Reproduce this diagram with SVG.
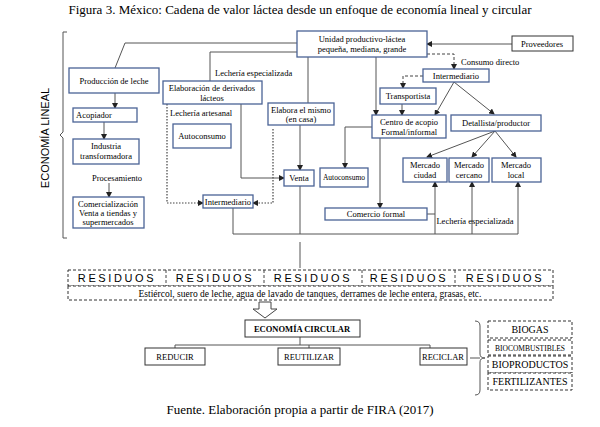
<svg xmlns="http://www.w3.org/2000/svg" width="600" height="427" viewBox="0 0 600 427">
<style>
text{font-family:"Liberation Serif","Times New Roman",serif;fill:#000;font-size:8.5px}
.b{fill:#fff;stroke:#4a6396;stroke-width:1.3}
.k{fill:#fff;stroke:#333;stroke-width:1}
.d{fill:#fff;stroke:#333;stroke-width:1;stroke-dasharray:3,2}
.l{fill:none;stroke:#555;stroke-width:1}
.ld{fill:none;stroke:#444;stroke-width:1;stroke-dasharray:3,2}
.lt{fill:none;stroke:#444;stroke-width:1.2;stroke-dasharray:1.5,1.5}
.m{text-anchor:middle}
.r{font-family:"Liberation Sans",Arial,sans-serif;font-size:11px;letter-spacing:2.6px}
</style>
<defs><marker id="a" markerWidth="6" markerHeight="6" refX="5" refY="3" orient="auto" markerUnits="userSpaceOnUse"><path d="M0,0L6,3L0,6z" fill="#222"/></marker></defs>
<text x="300" y="14" class="m" style="font-size:13px">Figura 3. México: Cadena de valor láctea desde un enfoque de economía lineal y circular</text>
<text transform="translate(49,138) rotate(-90)" class="m" style="font-family:'Liberation Sans',Arial,sans-serif;font-size:11px">ECONOMÍA LINEAL</text>
<g id="connectors">
<path class="l" d="M67,32h-4v100l-3,3l3,3v100h4"/>
<path class="l" d="M297,43H125L115,68"/>
<path class="l" d="M115,93v15" marker-end="url(#a)"/>
<path class="l" d="M104,122v17" marker-end="url(#a)"/>
<path class="l" d="M109,183v14" marker-end="url(#a)"/>
<path class="l" d="M297,52H210v29"/>
<path class="lt" d="M167,104v99h36" marker-end="url(#a)"/>
<path class="lt" d="M273,129v74h-20" marker-end="url(#a)"/>
<path class="l" d="M241,104v74h43" marker-end="url(#a)"/>
<path class="l" d="M308,57v46"/>
<path class="l" d="M300,125v45" marker-end="url(#a)"/>
<path class="l" d="M233,208v26h285v-6M300,186v48M435,228v6M472,228v6"/>
<path class="l" d="M512,44h-85" marker-end="url(#a)"/>
<path class="l" d="M376,57v58" marker-end="url(#a)"/>
<path class="l" d="M372,127h-27v41" marker-end="url(#a)"/>
<path class="l" d="M380,138v70" marker-end="url(#a)"/>
<path class="ld" d="M427,54h27v15" marker-end="url(#a)"/>
<path class="ld" d="M423,76h-20v12" marker-end="url(#a)"/>
<path class="l" d="M402,104v11" marker-end="url(#a)"/>
<path class="l" d="M454,82L435,115" marker-end="url(#a)"/>
<path class="l" d="M454,82L494,114" marker-end="url(#a)"/>
<path class="l" d="M495,131L427,157" marker-end="url(#a)"/>
<path class="l" d="M495,131L472,157" marker-end="url(#a)"/>
<path class="l" d="M495,131L516,157" marker-end="url(#a)"/>
<path class="l" d="M435,228v-46" marker-end="url(#a)"/>
<path class="l" d="M472,228v-46" marker-end="url(#a)"/>
<path class="l" d="M518,228v-46" marker-end="url(#a)"/>
<path class="l" d="M427,214h8"/>
<path class="l" d="M300,242v26"/>
<path class="l" d="M300,337v8M175,345h255M175,345v3M309,345v3M430,345v3"/>
<path class="l" d="M475,321q5,0 5,5v28q0,4 5,4q-5,0 -5,4v28q0,5 -5,5"/>
<path class="l" d="M470,358h10"/>
</g>
<text x="215" y="76">Lechería especializada</text>
<text x="170" y="116">Lechería artesanal</text>
<text x="117" y="181" class="m">Procesamiento</text>
<text x="461" y="65">Consumo directo</text>
<text x="475" y="224" class="m">Lechería especializada</text>
<g id="unidad"><rect class="b" x="297" y="31" width="130" height="26"/><text x="362" y="42" class="m">Unidad productivo-láctea</text><text x="362" y="52" class="m">pequeña, mediana, grande</text></g>
<g id="proveedores"><rect class="k" x="512" y="36" width="61" height="15"/><text x="542" y="47" class="m">Proveedores</text></g>
<g id="produccion"><rect class="b" x="69" y="68" width="90" height="25"/><text x="114" y="84" class="m">Producción de leche</text></g>
<g id="acopiador"><rect class="b" x="73" y="108" width="64" height="14"/><text x="94" y="118" class="m">Acopiador</text></g>
<g id="industria"><rect class="b" x="73" y="139" width="66" height="25"/><text x="106" y="149" class="m">Industria</text><text x="106" y="159" class="m">transformadora</text></g>
<g id="comercializacion"><rect class="b" x="73" y="197" width="71" height="31"/><text x="108" y="207" class="m">Comercialización</text><text x="108" y="216" class="m">Venta a tiendas y</text><text x="108" y="225" class="m">supermercados</text></g>
<g id="elaboracion"><rect class="b" x="163" y="81" width="99" height="23"/><text x="212" y="91" class="m">Elaboración  de derivados</text><text x="212" y="101" class="m">lácteos</text></g>
<g id="autoconsumo1"><rect class="b" x="173" y="124" width="58" height="24"/><text x="202" y="139" class="m">Autoconsumo</text></g>
<g id="intermediario1"><rect class="b" x="203" y="195" width="50" height="13"/><text x="228" y="205" class="m">Intermediario</text></g>
<g id="elabora"><rect class="b" x="268" y="103" width="66" height="22"/><text x="301" y="113" class="m">Elabora el mismo</text><text x="301" y="122" class="m">(en casa)</text></g>
<g id="venta"><rect class="b" x="284" y="170" width="30" height="16"/><text x="299" y="181" class="m">Venta</text></g>
<g id="autoconsumo2"><rect class="b" x="320" y="168" width="48" height="19"/><text x="344" y="180" class="m" style="font-size:7.5px">Autoconsumo</text></g>
<g id="centro"><rect class="b" x="372" y="115" width="74" height="23"/><text x="409" y="125" class="m">Centro de acopio</text><text x="409" y="135" class="m">Formal/informal</text></g>
<g id="comercio"><rect class="b" x="325" y="208" width="102" height="12"/><text x="376" y="217" class="m">Comercio formal</text></g>
<g id="intermediario2"><rect class="b" x="423" y="69" width="66" height="13"/><text x="456" y="79" class="m">Intermediario</text></g>
<g id="transportista"><rect class="b" x="380" y="88" width="56" height="16"/><text x="408" y="99" class="m">Transportista</text></g>
<g id="detallista"><rect class="b" x="451" y="115" width="90" height="16"/><text x="496" y="126" class="m">Detallista/productor</text></g>
<g id="mciudad"><rect class="b" x="403" y="158" width="44" height="24"/><text x="425" y="168" class="m">Mercado</text><text x="425" y="178" class="m">ciudad</text></g>
<g id="mcercano"><rect class="b" x="449" y="158" width="40" height="24"/><text x="469" y="168" class="m">Mercado</text><text x="469" y="178" class="m">cercano</text></g>
<g id="mlocal"><rect class="b" x="492" y="158" width="49" height="24"/><text x="516" y="168" class="m">Mercado</text><text x="516" y="178" class="m">local</text></g>
<g id="residuos">
<rect class="d" x="68" y="270" width="485" height="16"/>
<path class="ld" d="M166,270v16M264,270v16M362,270v16M455,270v16"/>
<text x="117" y="282" class="m r">RESIDUOS</text><text x="215" y="282" class="m r">RESIDUOS</text><text x="313" y="282" class="m r">RESIDUOS</text><text x="409" y="282" class="m r">RESIDUOS</text><text x="505" y="282" class="m r">RESIDUOS</text>
<rect class="d" x="68" y="286" width="485" height="14"/>
<text x="310" y="297" class="m" style="font-size:9.5px">Estiércol, suero de leche, agua de lavado de tanques, derrames de leche entera, grasas, etc.</text>
<path fill="#fff" stroke="#444" d="M259,302h12v7h6l-12,9l-12,-9h6z"/>
</g>
<g id="circular"><rect class="k" x="245" y="320" width="115" height="17"/><text x="302" y="332" class="m" style="font-weight:bold">ECONOMÍA CIRCULAR</text></g>
<g id="reducir"><rect class="k" x="145" y="348" width="60" height="17"/><text x="175" y="360" class="m">REDUCIR</text></g>
<g id="reutilizar"><rect class="k" x="278" y="348" width="62" height="17"/><text x="309" y="360" class="m">REUTILIZAR</text></g>
<g id="reciclar"><rect class="k" x="420" y="348" width="47" height="17"/><text x="443" y="360" class="m">RECICLAR</text></g>
<g id="biogas"><rect class="d" x="488" y="321" width="84" height="17"/><text x="530" y="333" class="m" style="font-size:10px">BIOGAS</text></g>
<g id="biocomb"><rect class="d" x="488" y="340" width="84" height="15"/><text x="530" y="351" class="m" style="font-size:7.5px">BIOCOMBUSTIBLES</text></g>
<g id="bioprod"><rect class="d" x="488" y="356" width="84" height="17"/><text x="530" y="368" class="m" style="font-size:10px">BIOPRODUCTOS</text></g>
<g id="fert"><rect class="d" x="488" y="373" width="84" height="17"/><text x="530" y="385" class="m" style="font-size:10px">FERTILIZANTES</text></g>
<text x="300" y="414" class="m" style="font-size:13px">Fuente. Elaboración propia a partir de FIRA (2017)</text>
</svg>
